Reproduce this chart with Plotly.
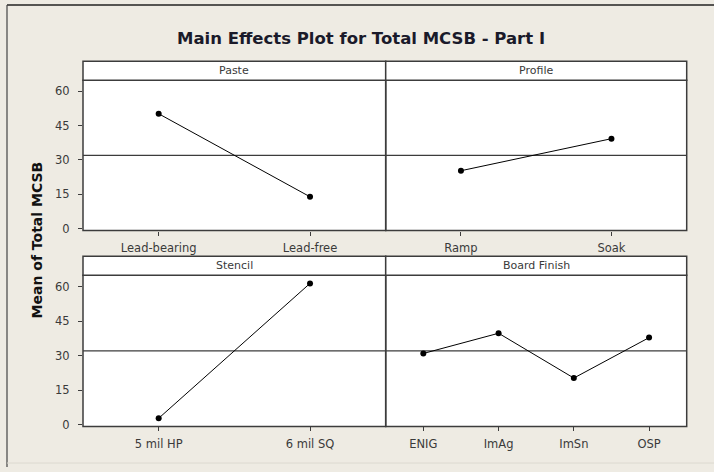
import plotly.graph_objects as go

W, H = 714, 472

title = "Main Effects Plot for Total MCSB - Part I"
y_title = "Mean of Total MCSB"
grand_mean = 32.0

paste_levels = ["Lead-bearing", "Lead-free"]
paste_means = [50.2, 13.9]
profile_levels = ["Ramp", "Soak"]
profile_means = [25.3, 39.3]
stencil_levels = ["5 mil HP", "6 mil SQ"]
stencil_means = [2.7, 61.4]
finish_levels = ["ENIG", "ImAg", "ImSn", "OSP"]
finish_means = [30.9, 39.7, 20.2, 37.8]
y_ticks = [0, 15, 30, 45, 60]

panels = [
    ("Paste", paste_levels, paste_means),
    ("Profile", profile_levels, profile_means),
    ("Stencil", stencil_levels, stencil_means),
    ("Board Finish", finish_levels, finish_means),
]

# pixel geometry
col_x = [(83, 385.7), (385.7, 686.7)]
row_plot = [(81, 233), (278.3, 431)]
row_strip = [(62, 81), (259, 278.3)]

def px(x):
    return x / W

def py(y):
    return 1 - y / H

BG = "#EEEBE3"
FRAME = "#3c3c3c"
TXT = "#3a3a3a"
FONT = "DejaVu Sans"

fig = go.Figure()
layout = dict(
    width=W, height=H,
    margin=dict(l=0, r=0, t=0, b=0),
    paper_bgcolor=BG, plot_bgcolor="white",
    showlegend=False,
    font=dict(family=FONT, size=11, color=TXT),
)
shapes = []
annotations = []

for i, (name, levels, means) in enumerate(panels):
    r, c = divmod(i, 2)
    ax = "" if i == 0 else str(i + 1)
    xa, ya = "x" + ax, "y" + ax
    fig.add_trace(go.Scatter(
        x=list(range(len(levels))), y=means, xaxis=xa, yaxis=ya,
        mode="lines+markers",
        line=dict(color="black", width=1),
        marker=dict(color="black", size=6),
        hoverinfo="skip",
    ))
    x0, x1 = col_x[c]
    p0, p1 = row_plot[r]
    layout["xaxis" + ax] = dict(
        domain=[px(x0), px(x1)], anchor=ya,
        range=[-0.5, len(levels) - 0.5],
        tickmode="array", tickvals=list(range(len(levels))), ticktext=levels,
        ticks="outside", ticklen=4, tickcolor=FRAME, tickwidth=1,
        showline=False, showgrid=False, zeroline=False, fixedrange=True,
        tickfont=dict(family=FONT, size=11.5, color=TXT),
        ticklabelstandoff=3,
    )
    layout["yaxis" + ax] = dict(
        domain=[py(p1), py(p0)], anchor=xa,
        range=[-0.85, 64.9],
        tickmode="array", tickvals=y_ticks,
        ticks="outside" if c == 0 else "", ticklen=4, tickcolor=FRAME,
        showticklabels=(c == 0),
        showline=False, showgrid=False, zeroline=False, fixedrange=True,
        tickfont=dict(family=FONT, size=11.5, color=TXT),
        ticklabelstandoff=6,
    )
    # reference line at grand mean
    shapes.append(dict(type="line", xref=xa + " domain", yref=ya,
                       x0=0, x1=1, y0=grand_mean, y1=grand_mean,
                       line=dict(color=FRAME, width=1.3), layer="below"))
    # plot frame
    shapes.append(dict(type="rect", xref="paper", yref="paper",
                       x0=px(x0), x1=px(x1), y0=py(p1), y1=py(p0),
                       fillcolor="rgba(0,0,0,0)", line=dict(color=FRAME, width=1.5)))
    # strip
    s0, s1 = row_strip[r]
    shapes.append(dict(type="rect", xref="paper", yref="paper",
                       x0=px(x0), x1=px(x1), y0=py(s1), y1=py(s0),
                       fillcolor="white", line=dict(color=FRAME, width=1.5)))
    annotations.append(dict(text=name, xref="paper", yref="paper",
                            x=px((x0 + x1) / 2), y=py((s0 + s1) / 2),
                            showarrow=False, xanchor="center", yanchor="middle",
                            font=dict(family=FONT, size=11, color=TXT)))

# title and y-axis title
annotations.append(dict(text="<b>" + title + "</b>", xref="paper", yref="paper",
                        x=px(361), y=py(39), showarrow=False,
                        xanchor="center", yanchor="middle",
                        font=dict(family=FONT, size=16.5, color="#1a1a2a")))
annotations.append(dict(text="<b>" + y_title + "</b>", xref="paper", yref="paper",
                        x=px(37), y=py(243), showarrow=False, textangle=-90,
                        xanchor="center", yanchor="middle",
                        font=dict(family=FONT, size=14, color="#111111")))

# window frame lines (top, left, faint bottom)
shapes.append(dict(type="line", xref="paper", yref="paper",
                   x0=px(7), x1=1, y0=py(5), y1=py(5),
                   line=dict(color="#222222", width=1.5)))
shapes.append(dict(type="line", xref="paper", yref="paper",
                   x0=px(7), x1=px(7), y0=py(5), y1=0,
                   line=dict(color="#444444", width=1.2)))
shapes.append(dict(type="line", xref="paper", yref="paper",
                   x0=px(7), x1=1, y0=py(468), y1=py(468),
                   line=dict(color="#dcd9d0", width=1)))

layout["shapes"] = shapes
layout["annotations"] = annotations
fig.update_layout(**layout)
fig.write_html(
    "out.html",
    config={"displayModeBar": False},
    post_script="document.body.style.margin='0';document.body.style.background='%s';" % BG,
)
